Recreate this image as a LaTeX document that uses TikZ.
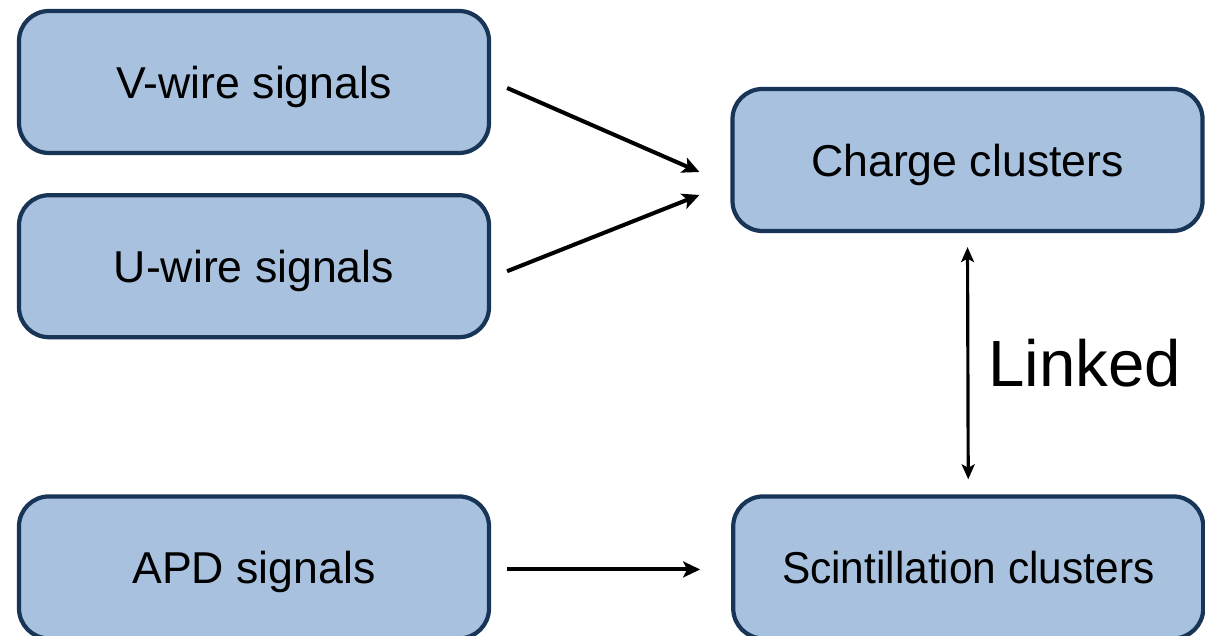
\documentclass[tikz,border=0pt]{standalone}
\usepackage{fontspec}
\setmainfont{Liberation Sans}
\usepackage{xcolor}
\usepackage{tikz}
\usetikzlibrary{positioning,arrows.meta}
\definecolor{relleno}{RGB}{167,193,223}
\definecolor{borde}{RGB}{24,53,88}

\begin{document}
\begin{tikzpicture}[
  caja/.style={draw=borde, line width=1.2pt, rounded corners=0.3cm, fill=relleno, minimum width=4.7cm, minimum height=1.42cm, text depth=0pt, align=center, font=\fontsize{12.7}{15}\selectfont},
  flecha/.style={-{Stealth[length=1.7mm, width=1.6mm, inset=0.4mm]}, line width=1.15pt}]
\useasboundingbox (0,0) rectangle (12.05,-6.36);
\node[caja] (vwire) at (2.54,-0.82) {V-wire signals};
\node[caja, below=0.38cm of vwire] (uwire) {U-wire signals};
\node[caja, below=1.55cm of uwire] (apd) {APD signals};
\node[caja] (charge) at (9.675,-1.60) {Charge clusters};
\node[caja, right=2.4cm of apd] (scint) {\scalebox{0.95}[1]{Scintillation clusters}};
\draw[flecha] ([shift={(0.16,-0.06)}]vwire.east) -- ([shift={(-0.31,-0.12)}]charge.west);
\draw[flecha] ([shift={(0.16,-0.05)}]uwire.east) -- ([shift={(-0.31,-0.35)}]charge.west);
\draw[flecha] ([shift={(0.16,-0.02)}]apd.east) -- ([shift={(-0.31,-0.02)}]scint.west);
\draw[{Stealth[length=1.5mm, width=1.3mm, inset=0.35mm]}-{Stealth[length=1.5mm, width=1.3mm, inset=0.35mm]}, line width=0.9pt]
  ([yshift=-0.14cm]charge.south) -- ([yshift=0.15cm]scint.north)
  node[midway, right=0.19cm, inner sep=0pt, font=\fontsize{18.6}{22}\selectfont] (linked) {Linked};
\end{tikzpicture}
\end{document}
